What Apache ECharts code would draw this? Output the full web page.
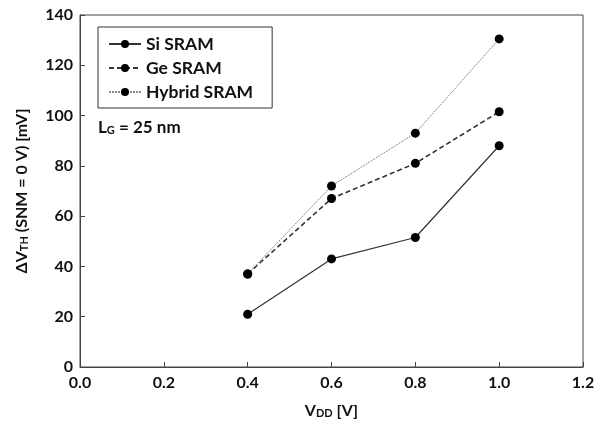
<!DOCTYPE html>
<html>
<head>
<meta charset="utf-8">
<script src="https://cdn.jsdelivr.net/npm/echarts@6/dist/echarts.min.js"></script>
<style>
  html, body { margin: 0; padding: 0; background: #fff; }
  #chart { width: 605px; height: 425px; }
</style>
</head>
<body>
<div id="chart"></div>
<script>
// values
const vdd = [0.4, 0.6, 0.8, 1.0];
const siSram = [21, 43, 51.5, 88];
const geSram = [37, 67, 81, 101.5];
const hybridSram = [37, 72, 93, 130.5];
const seriesNames = ['Si SRAM', 'Ge SRAM', 'Hybrid SRAM'];

const font = 'Lato, "Open Sans", sans-serif';
const pairs = (ys) => vdd.map((x, i) => [x, ys[i]]);

const chart = echarts.init(document.getElementById('chart'));

const option = {
  animation: false,
  grid: {
    left: 80,
    right: 22,
    top: 15,
    bottom: 58,
    show: true,
    borderColor: '#444',
    borderWidth: 1
  },
  legend: {
    orient: 'vertical',
    left: 98,
    top: 27,
    padding: [8, 19, 7, 10],
    itemGap: 6,
    itemWidth: 32,
    itemHeight: 10,
    borderColor: '#333',
    borderWidth: 1,
    data: seriesNames,
    textStyle: { fontFamily: font, fontWeight: 'bold', fontSize: 17.5, color: '#111' }
  },
  graphic: [
    {
      type: 'text',
      left: 98,
      top: 119,
      style: {
        text: '{a|L}{s|G}{a| = 25 nm}',
        rich: {
          a: { fontFamily: font, fontWeight: 'bold', fontSize: 17, fill: '#111' },
          s: { fontFamily: font, fontWeight: 'bold', fontSize: 11, fill: '#111', verticalAlign: 'bottom', padding: [6, 0, 0, 0] }
        }
      }
    }
  ],
  xAxis: {
    type: 'value',
    min: 0,
    max: 1.2,
    interval: 0.2,
    name: '{a|V}{s|DD}{a| [V]}',
    nameLocation: 'middle',
    nameGap: 35,
    nameTextStyle: {
      rich: {
        a: { fontFamily: font, fontWeight: 'bold', fontSize: 16, color: '#111' },
        s: { fontFamily: font, fontWeight: 'bold', fontSize: 11, color: '#111', verticalAlign: 'bottom', padding: [6, 0, 0, 0] }
      }
    },
    axisLine: { lineStyle: { color: '#444' } },
    axisTick: { inside: true, length: 5, lineStyle: { color: '#444' } },
    axisLabel: {
      fontFamily: font, fontWeight: 'bold', fontSize: 16, color: '#111', margin: 8,
      formatter: (v) => v.toFixed(1)
    },
    splitLine: { show: false }
  },
  yAxis: {
    type: 'value',
    min: 0,
    max: 140,
    interval: 20,
    name: '{a|ΔV}{s|TH}{a| (SNM = 0 V) [mV]}',
    nameLocation: 'middle',
    nameGap: 50,
    nameTextStyle: {
      rich: {
        a: { fontFamily: font, fontWeight: 'bold', fontSize: 16, color: '#111' },
        s: { fontFamily: font, fontWeight: 'bold', fontSize: 11, color: '#111', verticalAlign: 'bottom', padding: [6, 0, 0, 0] }
      }
    },
    axisLine: { show: true, lineStyle: { color: '#444' } },
    axisTick: { show: true, inside: true, length: 5, lineStyle: { color: '#444' } },
    axisLabel: { fontFamily: font, fontWeight: 'bold', fontSize: 16, color: '#111', margin: 7 },
    splitLine: { show: false }
  },
  series: [
    {
      name: seriesNames[0],
      type: 'line',
      data: pairs(siSram),
      symbol: 'circle',
      symbolSize: 9,
      itemStyle: { color: '#000' },
      lineStyle: { color: '#333', width: 1.2, type: 'solid' }
    },
    {
      name: seriesNames[1],
      type: 'line',
      data: pairs(geSram),
      symbol: 'circle',
      symbolSize: 9,
      itemStyle: { color: '#000' },
      lineStyle: { color: '#333', width: 1.6, type: [5, 3] }
    },
    {
      name: seriesNames[2],
      type: 'line',
      data: pairs(hybridSram),
      symbol: 'circle',
      symbolSize: 9,
      itemStyle: { color: '#000' },
      lineStyle: { color: '#888', width: 1, type: [2, 1] }
    }
  ]
};

chart.setOption(option);
window.addEventListener('resize', () => chart.resize());
</script>
</body>
</html>
